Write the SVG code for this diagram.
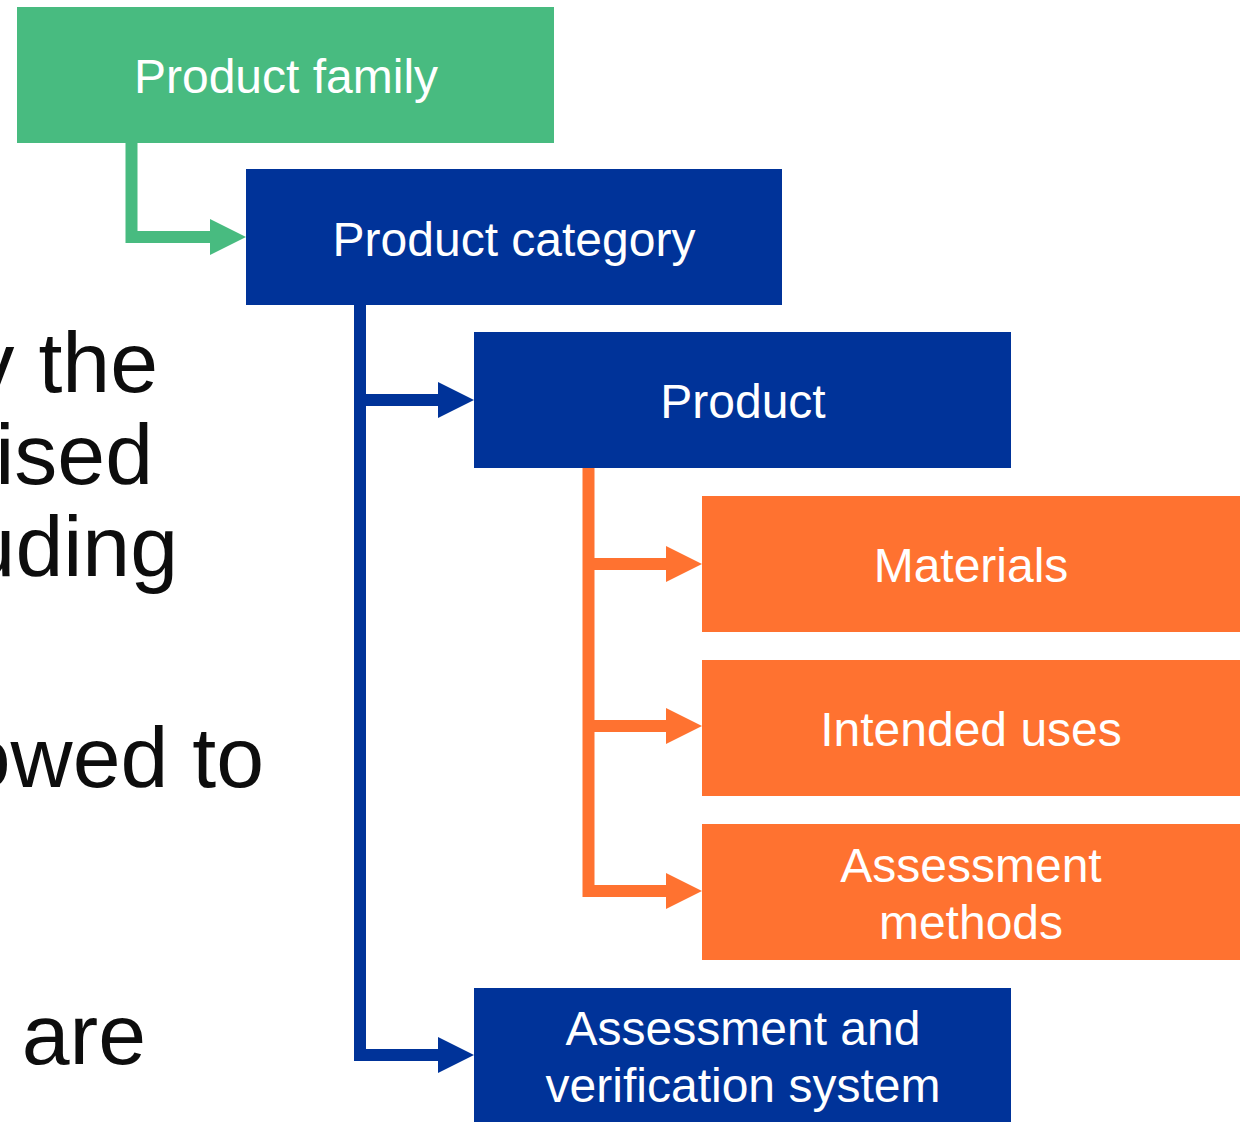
<svg xmlns="http://www.w3.org/2000/svg" width="1248" height="1122" viewBox="0 0 1248 1122">
  <style>
    .lbl { font-family: "Liberation Sans", Arial, sans-serif; font-size: 48px; fill: #ffffff; text-anchor: middle; }
    .bg { font-family: "Liberation Sans", Arial, sans-serif; font-size: 86px; fill: #0d0d0d; text-anchor: end; }
    .green { fill: #48bb80; }
    .blue { fill: #003399; }
    .orange { fill: #ff7230; }
    .cg { stroke: #48bb80; }
    .cb { stroke: #003399; }
    .co { stroke: #ff7230; }
    .conn path { fill: none; stroke-width: 12; stroke-linejoin: miter; stroke-linecap: butt; }
  </style>
  <defs>
    <marker id="ahG" markerUnits="userSpaceOnUse" viewBox="0 0 36 36" refX="0" refY="18" markerWidth="36" markerHeight="36" orient="auto">
      <path d="M0,0 L36,18 L0,36 Z" fill="#48bb80"/>
    </marker>
    <marker id="ahB" markerUnits="userSpaceOnUse" viewBox="0 0 36 36" refX="0" refY="18" markerWidth="36" markerHeight="36" orient="auto">
      <path d="M0,0 L36,18 L0,36 Z" fill="#003399"/>
    </marker>
    <marker id="ahO" markerUnits="userSpaceOnUse" viewBox="0 0 36 36" refX="0" refY="18" markerWidth="36" markerHeight="36" orient="auto">
      <path d="M0,0 L36,18 L0,36 Z" fill="#ff7230"/>
    </marker>
  </defs>
  <rect width="1248" height="1122" fill="#ffffff"/>

  <g id="background-text">
    <text class="bg" x="158" y="392">v the</text>
    <text class="bg" x="153" y="484">ised</text>
    <text class="bg" x="178" y="576">uding</text>
    <text class="bg" x="264" y="787">owed to</text>
    <text class="bg" x="146" y="1064">are</text>
  </g>

  <g id="connectors" class="conn">
    <path class="cg" d="M131.5,143 V237 H210" marker-end="url(#ahG)"/>
    <path class="cb" d="M360,305 V1055 H438" marker-end="url(#ahB)"/>
    <path class="cb" d="M360,400 H438" marker-end="url(#ahB)"/>
    <path class="co" d="M588.5,467 V891 H666" marker-end="url(#ahO)"/>
    <path class="co" d="M588.5,564 H666" marker-end="url(#ahO)"/>
    <path class="co" d="M588.5,726 H666" marker-end="url(#ahO)"/>
  </g>

  <g id="product-family">
    <rect class="green" x="17" y="7" width="537" height="136"/>
    <text class="lbl" x="286" y="93">Product family</text>
  </g>
  <g id="product-category">
    <rect class="blue" x="246" y="169" width="536" height="136"/>
    <text class="lbl" x="514" y="256">Product category</text>
  </g>
  <g id="product">
    <rect class="blue" x="474" y="332" width="537" height="136"/>
    <text class="lbl" x="743" y="418">Product</text>
  </g>
  <g id="materials">
    <rect class="orange" x="702" y="496" width="538" height="136"/>
    <text class="lbl" x="971" y="582">Materials</text>
  </g>
  <g id="intended-uses">
    <rect class="orange" x="702" y="660" width="538" height="136"/>
    <text class="lbl" x="971" y="746">Intended uses</text>
  </g>
  <g id="assessment-methods">
    <rect class="orange" x="702" y="824" width="538" height="136"/>
    <text class="lbl" x="971" y="882">Assessment</text>
    <text class="lbl" x="971" y="939">methods</text>
  </g>
  <g id="assessment-verification">
    <rect class="blue" x="474" y="988" width="537" height="134"/>
    <text class="lbl" x="743" y="1045">Assessment and</text>
    <text class="lbl" x="743" y="1102">verification system</text>
  </g>
</svg>
